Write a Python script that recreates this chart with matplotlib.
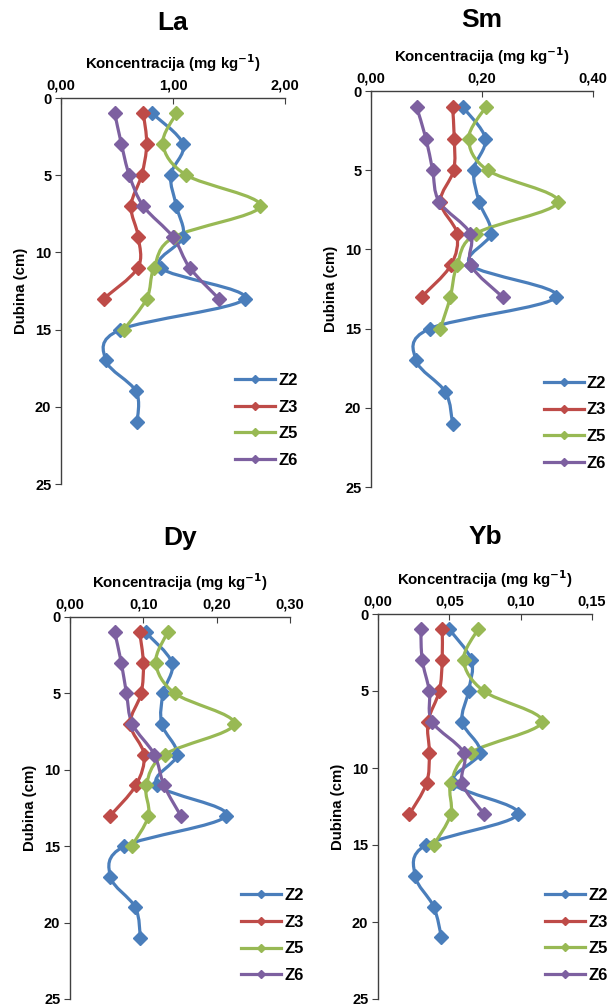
import numpy as np
import matplotlib
matplotlib.use("Agg")
import matplotlib.pyplot as plt
from matplotlib.path import Path
from matplotlib.patches import PathPatch
from matplotlib.lines import Line2D

plt.rcParams['font.family'] = ['Liberation Sans', 'DejaVu Sans']
plt.rcParams['font.weight'] = 'bold'

depth_z2 = [1, 3, 5, 7, 9, 11, 13, 15, 17, 19, 21]
depth_z3 = [1, 3, 5, 7, 9, 11, 13]
depth_z5 = [1, 3, 5, 7, 9, 11, 13, 15]
depth_z6 = [1, 3, 5, 7, 9, 11, 13]

series_names = ['Z2', 'Z3', 'Z5', 'Z6']
colors = ['#4A7EBB', '#BE4B48', '#98B954', '#7D60A0']

# La
la_z2 = [0.815, 1.09, 0.98, 1.03, 1.09, 0.89, 1.64, 0.53, 0.40, 0.67, 0.68]
la_z3 = [0.735, 0.765, 0.72, 0.625, 0.69, 0.685, 0.38]
la_z5 = [1.03, 0.91, 1.12, 1.78, 1.01, 0.83, 0.765, 0.56]
la_z6 = [0.48, 0.54, 0.61, 0.735, 1.00, 1.15, 1.41]

# Sm
sm_z2 = [0.165, 0.206, 0.185, 0.195, 0.216, 0.180, 0.334, 0.106, 0.081, 0.134, 0.147]
sm_z3 = [0.147, 0.150, 0.149, 0.125, 0.155, 0.144, 0.091]
sm_z5 = [0.207, 0.176, 0.210, 0.337, 0.189, 0.155, 0.143, 0.125]
sm_z6 = [0.082, 0.099, 0.111, 0.123, 0.179, 0.180, 0.237]

# Dy
dy_z2 = [0.103, 0.139, 0.127, 0.125, 0.146, 0.119, 0.213, 0.074, 0.055, 0.089, 0.096]
dy_z3 = [0.095, 0.100, 0.097, 0.082, 0.101, 0.090, 0.055]
dy_z5 = [0.133, 0.117, 0.143, 0.224, 0.129, 0.104, 0.107, 0.084]
dy_z6 = [0.061, 0.070, 0.077, 0.085, 0.115, 0.128, 0.151]

# Yb
yb_z2 = [0.050, 0.0655, 0.0635, 0.059, 0.0715, 0.0527, 0.098, 0.0335, 0.026, 0.039, 0.0445]
yb_z3 = [0.045, 0.045, 0.043, 0.035, 0.036, 0.034, 0.022]
yb_z5 = [0.070, 0.060, 0.074, 0.115, 0.065, 0.051, 0.051, 0.039]
yb_z6 = [0.030, 0.031, 0.036, 0.038, 0.060, 0.059, 0.0745]

depths = [depth_z2, depth_z3, depth_z5, depth_z6]

panels = [
    ('La', [la_z2, la_z3, la_z5, la_z6], 2.0, [0, 1, 2],
     [61 / 607, 1 - 484 / 1008, 224 / 607, 386 / 1008], 23),
    ('Sm', [sm_z2, sm_z3, sm_z5, sm_z6], 0.4, [0, 0.2, 0.4],
     [371 / 607, 1 - 487 / 1008, 222 / 607, 396 / 1008], 20),
    ('Dy', [dy_z2, dy_z3, dy_z5, dy_z6], 0.3, [0, 0.1, 0.2, 0.3],
     [70 / 607, 1 - 999 / 1008, 220 / 607, 382 / 1008], 538),
    ('Yb', [yb_z2, yb_z3, yb_z5, yb_z6], 0.15, [0, 0.05, 0.1, 0.15],
     [378 / 607, 1 - 999 / 1008, 214 / 607, 385 / 1008], 537),
]


def smooth_path(x, y):
    # Catmull-Rom style bezier, like Excel's smoothed lines
    pts = np.column_stack([x, y]).astype(float)
    verts = [pts[0]]
    codes = [Path.MOVETO]
    n = len(pts)
    for i in range(n - 1):
        p0 = pts[max(i - 1, 0)]
        p1 = pts[i]
        p2 = pts[i + 1]
        p3 = pts[min(i + 2, n - 1)]
        c1 = p1 + (p2 - p0) / 6.0
        c2 = p2 - (p3 - p1) / 6.0
        verts += [c1, c2, p2]
        codes += [Path.CURVE4] * 3
    return Path(verts, codes)


fig = plt.figure(figsize=(6.07, 10.08), dpi=100)

for name, vals, xmax, xticks, rect, title_y in panels:
    ax = fig.add_axes(rect)
    for d, v, c in zip(depths, vals, colors):
        patch = PathPatch(smooth_path(v, d), fill=False, edgecolor=c, lw=2.3,
                          transform=ax.transData, zorder=2)
        ax.add_patch(patch)
        ax.plot(v, d, linestyle='none', marker='D', markersize=7, color=c, zorder=3)
    ax.set_xlim(0, xmax)
    ax.set_ylim(25, 0)
    ax.xaxis.tick_top()
    ax.xaxis.set_label_position('top')
    ax.set_xticks(xticks)
    ax.set_xticklabels([('%.2f' % t).replace('.', ',') for t in xticks])
    ax.set_yticks([0, 5, 10, 15, 20, 25])
    ax.spines['right'].set_visible(False)
    ax.spines['bottom'].set_visible(False)
    for s in ['left', 'top']:
        ax.spines[s].set_color('#404040')
        ax.spines[s].set_linewidth(1.0)
    ax.tick_params(axis='x', direction='in', length=4, labelsize=10.5, pad=4, color='#404040')
    ax.tick_params(axis='y', direction='out', length=4, labelsize=10.5, pad=3, color='#404040')
    ax.set_xlabel('Koncentracija (mg kg$^{\\mathbf{-1}}$)', fontsize=10.8, fontweight='bold', labelpad=7)
    ax.set_ylabel('Dubina (cm)', fontsize=10.8, fontweight='bold', labelpad=5)
    fig.text(rect[0] + rect[2] / 2, 1 - title_y / 1008, name, ha='center', va='center',
             fontsize=19, fontweight='bold')
    handles = [Line2D([], [], color=c, lw=2.3, marker='D', markersize=4) for c in colors]
    ax.legend(handles, series_names, loc='lower left', bbox_to_anchor=(0.74, 0.02),
              frameon=False, handlelength=2.4, handletextpad=0.2,
              labelspacing=0.7, borderpad=0, prop={'weight': 'bold', 'size': 12})

fig.savefig('out.png', dpi=100)
